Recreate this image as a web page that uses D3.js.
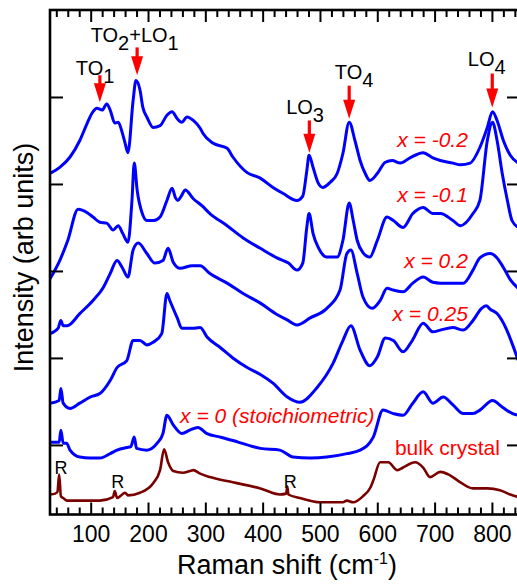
<!DOCTYPE html>
<html><head><meta charset="utf-8">
<script src="https://cdn.jsdelivr.net/npm/d3@7"></script>
<style>
body{margin:0;background:#fff}
svg{display:block}
text{font-family:"Liberation Sans",Arial,Helvetica,sans-serif}
</style>
</head><body>
<svg id="chart" width="517" height="585"></svg>
<script>
// ---------- data (Raman shift cm^-1, intensity arb units with offsets) ----------
const xMajorTicks = [100, 200, 300, 400, 500, 600, 700, 800];
const xMinorTicks = d3.range(40, 849, 20).filter(v => v % 100 !== 0);
const yTicks = [10, 20, 30, 40, 50];

const seriesNames = ["x = -0.2", "x = -0.1", "x = 0.2", "x = 0.25", "x = 0 (stoichiometric)", "bulk crystal"];

const specNeg02 = [[29,41.2],[46,41.9],[64,43.1],[81,45.0],[94,47.0],[102,48.1],[111,48.7],[120,48.5],[128,49.2],[134,48.5],[142,47.0],[148,47.1],[155,45.9],[160,44.7],[165,43.6],[174,49.6],[179,51.9],[186,50.8],[191,48.8],[198,47.7],[209,46.5],[221,46.7],[233,47.9],[242,48.3],[251,47.5],[259,47.1],[268,47.7],[279,47.3],[291,46.4],[296,45.8],[313,44.7],[338,44.1],[348,43.1],[373,41.3],[395,40.7],[418,39.6],[436,38.9],[460,38.1],[470,38.6],[477,41.5],[481,43.3],[488,41.9],[497,40.1],[505,39.6],[518,40.2],[530,41.2],[540,43.5],[551,47.1],[561,45.0],[570,42.7],[579,41.2],[587,40.4],[600,41.2],[614,42.5],[626,42.7],[640,42.4],[657,43.0],[680,43.6],[697,43.0],[710,42.7],[732,42.4],[745,42.2],[762,42.4],[779,44.2],[792,46.5],[801,48.3],[809,47.3],[820,45.0],[832,43.3],[846,42.4]];

const specNeg01 = [[29,29.1],[46,31.2],[60,33.5],[78,37.1],[94,36.7],[104,36.2],[116,35.6],[128,35.5],[139,34.7],[148,35.2],[156,34.3],[165,33.3],[172,38.1],[176,42.4],[181,39.3],[190,36.6],[198,35.8],[210,35.8],[221,36.2],[233,38.1],[242,39.5],[248,38.4],[252,38.1],[258,38.6],[265,39.3],[279,38.3],[294,37.5],[308,36.6],[338,35.2],[366,33.8],[396,32.6],[425,31.5],[445,30.9],[460,30.1],[470,30.9],[477,35.0],[481,36.6],[488,34.3],[497,32.7],[512,31.6],[530,31.6],[540,33.5],[551,37.8],[558,35.8],[565,33.5],[575,32.1],[587,31.6],[600,33.5],[617,36.2],[628,35.8],[645,35.0],[662,36.6],[680,37.3],[697,36.6],[710,36.6],[732,35.8],[745,35.2],[767,36.6],[779,38.1],[792,45.0],[801,47.1],[809,45.0],[818,41.2],[827,38.1],[835,35.8],[846,35.0]];

const specPos02 = [[29,22.8],[43,23.4],[48,24.3],[52,23.7],[59,23.7],[81,25.1],[104,26.6],[122,28.1],[134,29.7],[146,31.2],[155,30.4],[165,29.3],[174,32.4],[183,33.2],[198,32.0],[212,30.9],[226,31.2],[235,32.6],[244,31.0],[256,30.3],[277,30.6],[291,30.6],[308,29.7],[338,28.6],[366,27.4],[396,26.3],[425,25.0],[442,24.4],[460,23.8],[483,24.6],[512,25.7],[535,27.8],[547,32.0],[554,32.4],[565,29.7],[575,27.0],[591,25.7],[605,26.6],[617,28.0],[628,27.8],[645,27.6],[662,28.6],[680,29.3],[697,28.7],[710,28.6],[732,28.6],[750,28.6],[767,30.1],[779,31.5],[797,32.0],[809,31.5],[820,30.4],[832,29.0],[846,28.0]];

const specPos025 = [[29,14.8],[45,15.1],[48,16.5],[52,14.8],[64,14.2],[81,14.8],[99,15.5],[116,15.9],[134,17.4],[146,18.9],[163,19.7],[174,22.0],[186,22.0],[198,21.5],[209,21.8],[224,22.8],[233,27.4],[238,26.6],[251,24.6],[259,23.4],[277,23.4],[291,23.5],[303,22.4],[326,21.2],[348,20.0],[373,18.9],[396,18.1],[418,17.1],[443,15.5],[465,14.9],[495,16.6],[523,19.4],[540,22.0],[554,23.7],[570,20.9],[587,19.1],[600,20.1],[614,22.3],[628,22.0],[645,20.7],[661,22.0],[680,24.0],[697,23.0],[710,23.2],[732,23.5],[750,23.2],[767,24.3],[782,25.7],[790,26.0],[797,25.6],[809,25.1],[826,23.2],[835,21.7],[846,19.7]];

const specStoich = [[29,10.3],[45,10.3],[48,11.7],[52,10.2],[58,10.2],[64,9.4],[81,8.6],[99,8.5],[116,8.5],[134,9.0],[146,9.4],[163,9.7],[170,9.8],[176,10.9],[180,9.6],[198,9.4],[216,10.2],[226,11.3],[233,13.4],[244,12.3],[259,11.3],[273,11.7],[287,12.0],[303,11.3],[326,10.9],[348,10.5],[373,10.0],[396,9.6],[430,9.4],[453,8.6],[483,8.5],[512,8.6],[547,9.0],[570,9.4],[593,10.9],[610,14.0],[628,13.6],[645,13.4],[662,14.8],[680,16.1],[697,14.8],[715,15.5],[732,14.6],[750,13.6],[767,13.6],[779,14.0],[801,15.1],[819,14.3],[836,13.6],[846,13.4]];

const specBulk = [[29,4.3],[38,4.4],[42,4.6],[45,6.6],[48,4.1],[52,3.9],[59,3.6],[90,3.6],[116,3.6],[139,4.0],[142,4.7],[146,3.9],[155,4.3],[160,4.5],[165,4.2],[186,4.5],[209,5.6],[221,7.1],[228,9.5],[235,8.0],[244,7.0],[261,6.8],[273,7.0],[279,7.1],[291,6.7],[308,6.3],[348,5.7],[396,5.0],[430,4.3],[441,4.4],[443,5.2],[445,4.3],[465,3.9],[500,3.4],[540,3.4],[547,3.6],[558,3.4],[575,4.1],[588,5.1],[593,5.9],[605,8.0],[619,8.0],[635,7.1],[645,7.4],[666,8.0],[680,7.4],[692,6.3],[710,6.9],[727,6.5],[745,5.7],[767,5.0],[792,5.0],[814,4.8],[832,4.3],[846,4.0]];

// mode annotations: label parts [base, subscript], label anchor (shift, intensity), arrow (shift, top, tip)
const modeLabels = [[["TO","1"]], [["TO","2"],["+LO","1"]], [["LO","3"]], [["TO","4"]], [["LO","4"]]];
const modeLabelPos = [[74,52.5],[100,56.3],[441,48.1],[526,52.1],[758,53.6]];
const modeArrows = [[116,52.5,49.4],[181,55.7,52.5],[481.5,47.3,43.6],[551,51.3,47.5],[800.6,52.7,48.8]];

const seriesLabelPos = [[758,44.2],[758,37.9],[758,30.3],[758,24.3],[256,12.5],[814,8.8]];
const rLabels = ["R","R","R"];
const rLabelPos = [[48,6.7],[147,5.0],[448,5.0]];

// ---------- drawing ----------
const svg = d3.select("#chart");
const L = 50, R = 520, T = 10, B = 514.5;
const x = d3.scaleLinear().domain([29, 849]).range([L, R]);
const y = d3.scaleLinear().domain([2, 60]).range([B, T]);

svg.append("defs").append("clipPath").attr("id","clip")
  .append("rect").attr("x",L).attr("y",T).attr("width",R-L).attr("height",B-T);

const line = d3.line().x(d => x(d[0])).y(d => y(d[1])).curve(d3.curveMonotoneX);

const series = [specNeg02, specNeg01, specPos02, specPos025, specStoich, specBulk];
const colors = ["#0000ff","#0000ff","#0000ff","#0000ff","#0000ff","#7a0000"];
const g = svg.append("g").attr("clip-path","url(#clip)");
series.forEach((s,i) => {
  g.append("path").datum(s).attr("d", line)
    .attr("fill","none").attr("stroke",colors[i])
    .attr("stroke-width", i===5 ? 2.6 : 3)
    .attr("stroke-linejoin","round").attr("stroke-linecap","round");
});

// axes
function styleAxis(sel){ sel.select(".domain").remove(); sel.selectAll("line").attr("stroke","#000").attr("stroke-width",2); }
const bottomMajor = svg.append("g").attr("transform",`translate(0,${B})`)
  .call(d3.axisBottom(x).tickValues(xMajorTicks).tickSize(-12).tickPadding(11).tickFormat(d3.format("d")));
styleAxis(bottomMajor);
bottomMajor.selectAll("text").attr("font-size",23).attr("fill","#000").style("font-family",'"Liberation Sans",Arial,sans-serif');
styleAxis(svg.append("g").attr("transform",`translate(0,${B})`)
  .call(d3.axisBottom(x).tickValues(xMinorTicks).tickSize(-7).tickFormat("")));
styleAxis(svg.append("g").attr("transform",`translate(0,${T})`)
  .call(d3.axisTop(x).tickValues(xMajorTicks).tickSize(-12).tickFormat("")));
styleAxis(svg.append("g").attr("transform",`translate(0,${T})`)
  .call(d3.axisTop(x).tickValues(xMinorTicks).tickSize(-7).tickFormat("")));
styleAxis(svg.append("g").attr("transform",`translate(${L},0)`)
  .call(d3.axisLeft(y).tickValues(yTicks).tickSize(-13).tickFormat("")));
styleAxis(svg.append("g").attr("transform",`translate(${R},0)`)
  .call(d3.axisRight(y).tickValues(yTicks).tickSize(-13).tickFormat("")));

svg.append("rect").attr("x",L).attr("y",T).attr("width",R-L).attr("height",B-T)
  .attr("fill","none").attr("stroke","#000").attr("stroke-width",2.6);

// axis titles
const xt = svg.append("text").attr("x",287).attr("y",574).attr("text-anchor","middle")
  .attr("font-size",27).attr("fill","#000");
xt.append("tspan").text("Raman shift (cm");
xt.append("tspan").attr("font-size",16).attr("dy",-10).text("-1");
xt.append("tspan").attr("dy",10).text(")");

svg.append("text").attr("transform","translate(33,257.5) rotate(-90)")
  .attr("text-anchor","middle").attr("font-size",27).attr("fill","#000")
  .text("Intensity (arb units)");

// mode labels
modeLabels.forEach((parts,i) => {
  const t = svg.append("text").attr("x", x(modeLabelPos[i][0])).attr("y", y(modeLabelPos[i][1]))
    .attr("font-size",20).attr("fill","#000");
  parts.forEach((p,j) => {
    t.append("tspan").attr("dy", j===0 ? 0 : -8).text(p[0]);
    t.append("tspan").attr("dy", 8).text(p[1]);
  });
});
// arrows
modeArrows.forEach(a => {
  const ax = x(a[0]), top = y(a[1]), tip = y(a[2]);
  const hh = 19, hw = 6;
  svg.append("line").attr("x1",ax).attr("x2",ax).attr("y1",top).attr("y2",tip-hh+1)
    .attr("stroke","#ff0000").attr("stroke-width",3.2);
  svg.append("path").attr("d",`M${ax-hw},${tip-hh} L${ax+hw},${tip-hh} L${ax},${tip} Z`)
    .attr("fill","#ff0000");
});

// series labels
seriesNames.forEach((n,i) => {
  const isBulk = i===5, isStoich = i===4;
  svg.append("text").attr("x", x(seriesLabelPos[i][0])).attr("y", y(seriesLabelPos[i][1]))
    .attr("text-anchor", isStoich ? "start" : "end")
    .attr("font-size",21).attr("fill","#ff0000")
    .attr("font-style", isBulk ? "normal" : "italic")
    .text(n);
});

// R labels
rLabels.forEach((r,i) => {
  svg.append("text").attr("x", x(rLabelPos[i][0])).attr("y", y(rLabelPos[i][1]))
    .attr("text-anchor","middle").attr("font-size",18).attr("fill","#000").text(r);
});
</script>
</body></html>
